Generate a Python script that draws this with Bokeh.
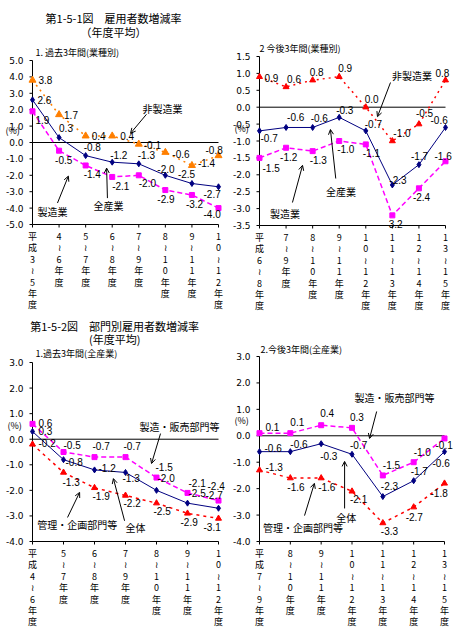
from bokeh.plotting import figure
from bokeh.models import (Range1d, ColumnDataSource, LabelSet, Label, Arrow, OpenHead)
from bokeh.layouts import row, column
from bokeh.embed import file_html
from bokeh.resources import INLINE
from bokeh.core.properties import value

# ---------------- data ----------------
# 第1-5-1図 1. 過去3年間(業種別)
cats1 = ["平成3～5年度", "4～6年度", "5～7年度", "6～8年度", "7～9年度", "8～10年度", "9～11年度", "10～12年度"]
p1_nonmfg = [3.8, 1.7, 0.4, 0.4, -0.1, -0.6, -1.4, -0.8]
p1_all = [2.6, 0.3, -0.8, -1.2, -1.3, -2.0, -2.5, -2.7]
p1_mfg = [1.9, -0.5, -1.4, -2.1, -2.0, -2.9, -3.2, -4.0]

# 第1-5-1図 2 今後3年間(業種別)
cats2 = ["平成6～8年度", "7～9年度", "8～10年度", "9～11年度", "10～12年度", "11～13年度", "12～14年度", "13～15年度"]
p2_nonmfg = [0.9, 0.6, 0.8, 0.9, 0.0, -1.0, -0.5, 0.8]
p2_all = [-0.7, -0.6, -0.6, -0.3, -0.7, -2.3, -1.7, -0.6]
p2_mfg = [-1.5, -1.2, -1.3, -1.0, -1.1, -3.2, -2.4, -1.6]

# 第1-5-2図 1.過去3年間(全産業)
cats3 = ["平成4～6年度", "5～7年度", "6～8年度", "7～9年度", "8～10年度", "9～11年度", "10～12年度"]
p3_prod = [0.6, -0.5, -0.7, -0.7, -1.5, -2.1, -2.4]
p3_all = [0.3, -0.8, -1.2, -1.3, -2.0, -2.5, -2.7]
p3_mgmt = [-0.2, -1.3, -1.9, -2.2, -2.5, -2.9, -3.1]

# 第1-5-2図 2.今後3年間(全産業)
cats4 = ["平成7～9年度", "8～10年度", "9～11年度", "10～12年度", "11～13年度", "12～14年度", "13～15年度"]
p4_prod = [0.1, 0.1, 0.4, 0.3, -1.5, -1.0, -0.1]
p4_all = [-0.6, -0.6, -0.3, -0.7, -2.3, -1.7, -0.6]
p4_mgmt = [-1.3, -1.6, -1.6, -2.1, -3.3, -2.7, -1.8]

# ---------------- style ----------------
JP = "Noto Sans CJK JP"
NUM = "Liberation Sans"
NAVY = "#000080"
MAG = "#FF00FF"
ORANGE = "#FF7F00"
RED = "#FF0000"
LINE_STEP = 11.4   # px between stacked characters of category labels


def make_panel(cats, ymin, ymax, ystep, W, H, ax_px, last_px, ytop_px, ybot_px):
    """Frame spans the whole canvas; axes are drawn in data space."""
    n = len(cats)
    u = (last_px - ax_px) / (n - 1)
    k = (ybot_px - ytop_px) / (ymax - ymin)
    p = figure(width=W, height=H,
               x_range=Range1d(-ax_px / u, (W - ax_px) / u),
               y_range=Range1d(ymin - (H - ybot_px) / k, ymax + ytop_px / k),
               output_backend="svg", toolbar_location=None,
               min_border_left=0, min_border_right=0,
               min_border_top=0, min_border_bottom=0)
    p.outline_line_color = None
    p.xgrid.visible = False
    p.ygrid.visible = False
    p.xaxis.visible = False
    p.yaxis.visible = False
    p.background_fill_color = "white"
    p.border_fill_color = "white"

    # value axis at the first category
    nt = int(round((ymax - ymin) / ystep))
    yt = [round(ymin + i * ystep, 2) for i in range(nt + 1)]
    p.segment(x0=[0], y0=[ymin], x1=[0], y1=[ymax], line_color="black", line_width=1)
    p.segment(x0=[0] * len(yt), y0=yt, x1=[-3 / u] * len(yt), y1=yt,
              line_color="black", line_width=1)
    p.text(x=[0] * len(yt), y=yt, text=["%.1f" % t for t in yt], x_offset=-9,
           text_align="right", text_baseline="middle", text_color="black",
           text_font=value("DejaVu Sans"), text_font_size=value("9px"))

    # category axis along the bottom of the value axis
    xs = list(range(n))
    p.segment(x0=[0], y0=[ymin], x1=[n - 1], y1=[ymin], line_color="black", line_width=1)
    p.segment(x0=xs, y0=[ymin] * n, x1=xs, y1=[ymin - 3 / k] * n,
              line_color="black", line_width=1)
    cx, cy, ct = [], [], []
    for i, c in enumerate(cats):
        for j, ch in enumerate(c):
            cx.append(i)
            cy.append(ymin - (12 + j * LINE_STEP) / k)
            ct.append("≀" if ch == "～" else ch)
    p.text(x=cx, y=cy, text=ct, text_align="center", text_baseline="middle",
           text_color="black", text_font=value(JP), text_font_size=value("9px"))

    # zero line
    p.line([0, n - 1], [0, 0], line_color="black", line_width=1)
    return p, u, k


def add_series(p, u, k, vals, color, marker, msize, dash, lw, offs):
    xs = list(range(len(vals)))
    p.line(xs, vals, line_color=color, line_width=lw, line_dash=dash)
    p.scatter(xs, vals, marker=marker, size=msize, fill_color=color, line_color=color)
    lx = [i + dx / u for i, (dx, dy) in enumerate(offs)]
    ly = [v - dy / k for v, (dx, dy) in zip(vals, offs)]
    txt = ["%.1f" % v for v in vals]
    src = ColumnDataSource(dict(x=lx, y=ly, t=txt))
    p.add_layout(LabelSet(x="x", y="y", text="t", source=src,
                          text_font=value(NUM), text_font_size="10px",
                          text_baseline="middle", text_align="left", text_color="black"))


def add_text(p, x, y, text, size="10px", align="center", font=JP):
    p.add_layout(Label(x=x, y=y, text=text, text_font=font, text_font_size=size,
                       text_align=align, text_baseline="middle", text_color="black"))


def add_arrow(p, xs, ys, xe, ye):
    p.add_layout(Arrow(end=OpenHead(size=5, line_width=1, line_color="black"),
                       x_start=xs, y_start=ys, x_end=xe, y_end=ye,
                       line_width=1, line_color="black"))


# ---------------- panel 1 ----------------
p1, u1, k1 = make_panel(cats1, -5.0, 5.0, 1.0, 227, 314, 32, 218, 60, 224)
add_series(p1, u1, k1, p1_nonmfg, ORANGE, "triangle", 7, "2 4", 1.5,
           [(6, 0), (5, 0), (6, 0), (8, 0), (5, 1), (7, 2), (6, -2), (-13, -6)])
add_series(p1, u1, k1, p1_mfg, MAG, "square", 5, "5 3", 1.5,
           [(3, 9), (-4, 9), (-2, 9), (0, 9), (0, 8), (-8, 9), (-6, 9), (-15, 6)])
add_series(p1, u1, k1, p1_all, NAVY, "diamond", 6, "solid", 1,
           [(5, 0), (0, -10), (-2, -9), (-2, -7), (-1, -9), (-8, -6), (-14, -10), (-15, 7)])
add_text(p1, 3.05, 7.61, "第1-5-1図　雇用者数増減率", size="11px")
add_text(p1, 3.05, 6.76, "（年度平均）", size="11px")
add_text(p1, 0.11, 5.48, "1. 過去3年間(業種別)", size="9px", align="left")
add_text(p1, -1.02, 0.74, "(%)", size="9px", align="left")
add_text(p1, 4.89, 2.08, "非製造業")
add_arrow(p1, 4.29, 1.72, 3.69, 0.56)
add_text(p1, 0.75, -4.18, "製造業")
add_arrow(p1, 0.94, -3.69, 1.35, -2.05)
add_text(p1, 2.86, -3.87, "全産業")
add_arrow(p1, 2.82, -3.39, 2.79, -1.56)

# ---------------- panel 2 ----------------
p2, u2, k2 = make_panel(cats2, -3.5, 1.5, 0.5, 227, 314, 32, 218, 56, 225)
add_series(p2, u2, k2, p2_nonmfg, RED, "triangle", 6, "2 4", 1.5,
           [(5, 1), (1, -8), (-3, -8), (-1, -9), (-1, -8), (1, -8), (-3, -11), (-10, -7)])
add_series(p2, u2, k2, p2_mfg, MAG, "square", 5, "5 3", 1.5,
           [(3, 10), (-6, 9), (-3, 9), (-2, 8), (-3, 9), (-7, 9), (-6, 9), (-11, -5)])
add_series(p2, u2, k2, p2_all, NAVY, "diamond", 6, "solid", 1,
           [(1, 7), (1, -10), (-2, -9), (-3, -7), (-1, -7), (-3, -5), (-8, -9), (-15, -7)])
add_text(p2, 0.0, 1.74, "2 今後3年間(業種別)", size="9px", align="left")
add_text(p2, -0.94, -0.63, "(%)", size="9px", align="left")
add_text(p2, 5.74, 0.94, "非製造業")
add_arrow(p2, 4.93, 0.73, 4.44, -0.28)
add_text(p2, 0.96, -3.14, "製造業")
add_arrow(p2, 1.24, -2.82, 1.62, -1.72)
add_text(p2, 3.07, -2.49, "全産業")
add_arrow(p2, 2.87, -2.11, 2.67, -0.66)

# ---------------- panel 3 ----------------
p3, u3, k3 = make_panel(cats3, -4.0, 3.0, 1.0, 227, 314, 32, 218, 48, 227)
add_series(p3, u3, k3, p3_mgmt, RED, "triangle", 6, "3 4", 1.5,
           [(6, -1), (-1, 10), (-2, 8), (-2, 8), (-3, 8), (-7, 9), (-15, 9)])
add_series(p3, u3, k3, p3_prod, MAG, "square", 5, "5 3", 1.5,
           [(6, -1), (0, -7), (-2, -11), (-2, -11), (-1, -11), (1, -10), (-11, -15)])
add_series(p3, u3, k3, p3_all, NAVY, "diamond", 6, "solid", 1,
           [(6, -1), (2, 2), (4, -2), (-3, 6), (1, -12), (1, -10), (-13, -13)])
add_text(p3, 2.65, 4.41, "第1-5-2図　部門別雇用者数増減率", size="11px")
add_text(p3, 2.65, 3.90, "(年度平均)", size="11px")
add_text(p3, 0.10, 3.35, "1.過去3年間(全産業)", size="9px", align="left")
add_text(p3, -0.81, 0.54, "(%)", size="9px", align="left")
add_text(p3, 4.74, 0.50, "製造・販売部門等")
add_arrow(p3, 4.13, 0.22, 3.84, -0.95)
add_text(p3, 1.44, -3.34, "管理・企画部門等")
add_arrow(p3, 1.13, -3.06, 1.52, -2.08)
add_text(p3, 3.32, -3.46, "全体")
add_arrow(p3, 2.97, -3.19, 2.61, -1.54)

# ---------------- panel 4 ----------------
p4, u4, k4 = make_panel(cats4, -4.0, 3.0, 1.0, 227, 314, 32, 217, 42, 227)
add_series(p4, u4, k4, p4_mgmt, RED, "triangle", 6, "3 4", 1.5,
           [(6, -3), (-3, 9), (-3, 9), (-2, 8), (-2, 8), (-8, 10), (-14, 10)])
add_series(p4, u4, k4, p4_prod, MAG, "square", 5, "5 3", 1.5,
           [(6, -6), (0, -11), (-1, -12), (-2, -11), (0, -10), (0, -10), (-9, 7)])
add_series(p4, u4, k4, p4_all, NAVY, "diamond", 6, "solid", 1,
           [(5, -4), (0, -8), (-1, 12), (-2, -9), (-2, -11), (-3, -10), (-12, 11)])
add_text(p4, 0.03, 3.27, "2.今後3年間(全産業)", size="9px", align="left")
add_text(p4, -0.81, 0.58, "(%)", size="9px", align="left")
add_text(p4, 4.38, 1.45, "製造・販売部門等")
add_arrow(p4, 3.80, 0.92, 3.57, -0.10)
add_text(p4, 1.41, -3.47, "管理・企画部門等")
add_arrow(p4, 1.46, -3.02, 1.78, -1.80)
add_text(p4, 2.81, -3.09, "全体")
add_arrow(p4, 2.76, -2.75, 2.76, -0.97)

layout = column(row(p1, p2), row(p3, p4))
open("out.html", "w").write(file_html(layout, INLINE))
